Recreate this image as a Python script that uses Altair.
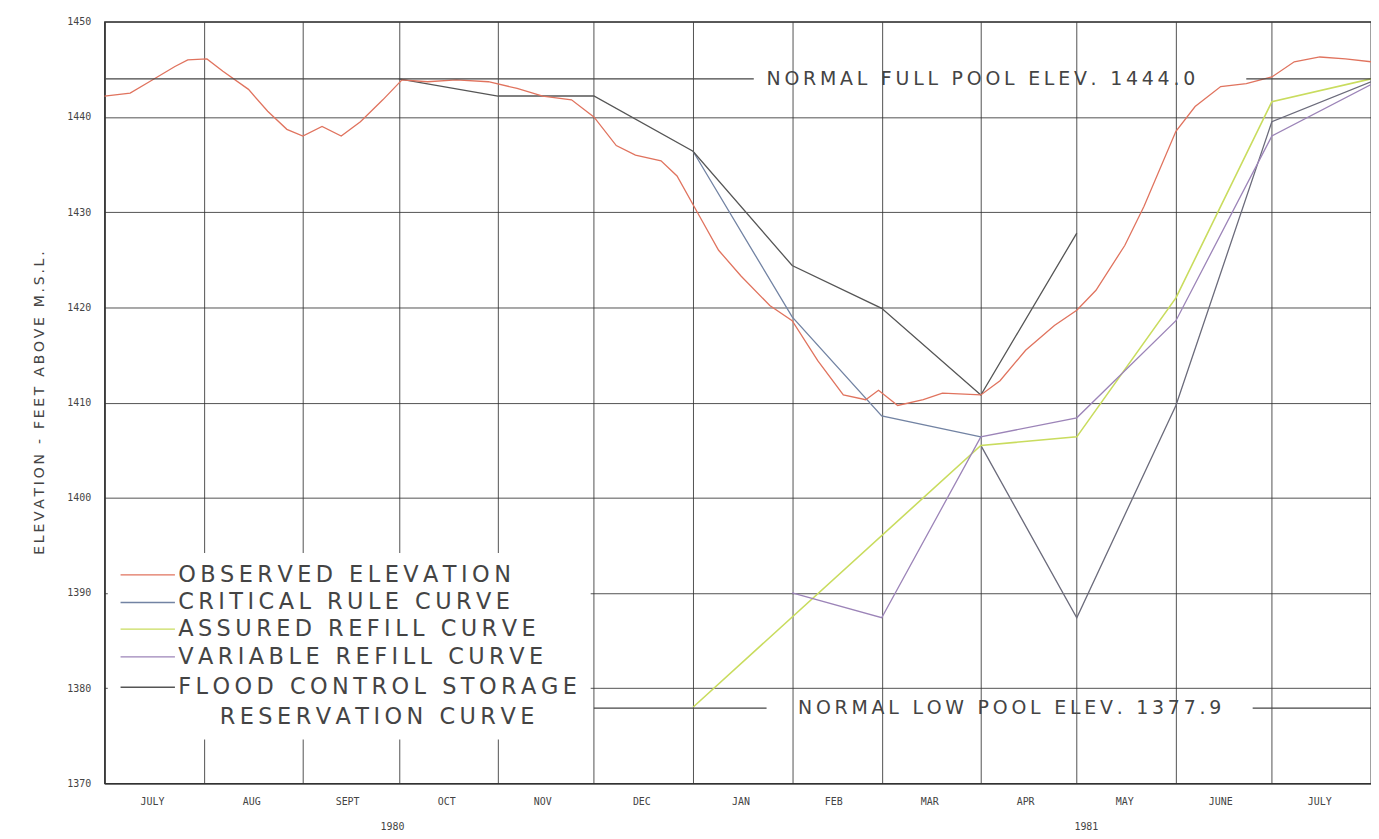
import altair as alt
import pandas as pd

# observed reservoir elevation (red)
obs_dates = ["1980-07-01", "1980-07-09", "1980-07-15", "1980-07-23", "1980-07-27", "1980-08-02",
             "1980-08-07", "1980-08-15", "1980-08-21", "1980-08-27", "1980-09-01", "1980-09-07",
             "1980-09-13", "1980-09-19", "1980-09-26", "1980-10-02", "1980-10-10", "1980-10-19",
             "1980-10-29", "1980-11-07", "1980-11-15", "1980-11-24", "1980-12-01", "1980-12-08",
             "1980-12-14", "1980-12-22", "1980-12-27", "1981-01-03", "1981-01-09", "1981-01-16",
             "1981-01-25", "1981-02-01", "1981-02-09", "1981-02-17", "1981-02-24", "1981-02-28",
             "1981-03-06", "1981-03-14", "1981-03-20", "1981-04-01", "1981-04-07", "1981-04-15",
             "1981-04-24", "1981-05-01", "1981-05-07", "1981-05-16", "1981-05-22", "1981-06-01",
             "1981-06-07", "1981-06-15", "1981-06-23", "1981-07-01", "1981-07-08", "1981-07-16",
             "1981-07-24", "1981-08-01"]
obs_elev = [1442.2, 1442.5, 1443.7, 1445.3, 1446.0, 1446.1, 1444.8, 1442.9, 1440.6, 1438.7,
            1438.0, 1439.0, 1438.0, 1439.5, 1441.8, 1443.9, 1443.7, 1443.9, 1443.7, 1443.0,
            1442.2, 1441.8, 1440.0, 1437.0, 1436.0, 1435.4, 1433.8, 1429.6, 1426.0, 1423.3,
            1420.2, 1418.6, 1414.4, 1410.8, 1410.3, 1411.3, 1409.7, 1410.3, 1411.0, 1410.8,
            1412.3, 1415.5, 1418.1, 1419.7, 1421.8, 1426.5, 1430.6, 1438.5, 1441.1, 1443.2,
            1443.5, 1444.2, 1445.8, 1446.3, 1446.1, 1445.8]

crit_dates = ["1981-01-01", "1981-02-01", "1981-03-01", "1981-04-01"]
crit_elev = [1436.4, 1419.0, 1408.6, 1406.4]

assured_dates = ["1981-01-01", "1981-04-01", "1981-05-01", "1981-06-01", "1981-07-01", "1981-08-01"]
assured_elev = [1378.0, 1405.5, 1406.4, 1421.0, 1441.6, 1444.0]

var_dates = ["1981-02-01", "1981-03-01", "1981-04-01", "1981-05-01", "1981-06-01", "1981-07-01", "1981-08-01"]
var_elev = [1390.0, 1387.4, 1406.4, 1408.4, 1418.6, 1438.0, 1443.4]

flood_a_dates = ["1980-10-01", "1980-11-01", "1980-12-01", "1981-01-01", "1981-02-01",
                 "1981-03-01", "1981-04-01", "1981-05-01"]
flood_a_elev = [1444.0, 1442.2, 1442.2, 1436.4, 1424.4, 1419.9, 1410.8, 1427.8]
flood_b_dates = ["1981-04-01", "1981-05-01", "1981-06-01", "1981-07-01", "1981-08-01"]
flood_b_elev = [1405.5, 1387.4, 1409.7, 1439.5, 1443.7]

months = ["JULY", "AUG", "SEPT", "OCT", "NOV", "DEC", "JAN", "FEB", "MAR", "APR", "MAY", "JUNE", "JULY"]
month_mid = ["1980-07-16", "1980-08-16", "1980-09-15", "1980-10-16", "1980-11-15", "1980-12-16",
             "1981-01-16", "1981-02-14", "1981-03-16", "1981-04-15", "1981-05-16", "1981-06-15",
             "1981-07-16"]
legend_labels = ["OBSERVED ELEVATION", "CRITICAL RULE CURVE", "ASSURED REFILL CURVE",
                 "VARIABLE REFILL CURVE", "FLOOD CONTROL STORAGE", "RESERVATION CURVE"]
legend_y = [1391.9, 1389.0, 1386.2, 1383.3, 1380.1, 1377.0]
legend_x = ["1980-07-24"] * 5 + ["1980-08-06"]

RED, BLUE, GREEN, PURPLE, DARK = "#e0735e", "#7283a3", "#c9dc5e", "#9c84b8", "#555555"
FONT = "DejaVu Sans"
MONO = "DejaVu Sans Mono"


def spaced(s):
    # plotter lettering is widely spaced
    return "\u2009".join(s)


X = alt.X("date:T", scale=alt.Scale(domain=["1980-07-01", "1981-08-01"]),
          axis=alt.Axis(tickCount={"interval": "month", "step": 1}, labels=False, ticks=False,
                        title=None, gridColor="#333", gridOpacity=0.85, domainColor="#333"))
Y = alt.Y("elev:Q", scale=alt.Scale(domain=[1370, 1450]),
          axis=alt.Axis(values=list(range(1370, 1451, 10)), format="d", gridColor="#333",
                        gridOpacity=0.85, domainColor="#333", tickSize=0, labelPadding=14,
                        labelFont=MONO, labelFontSize=10, labelColor="#444",
                        title=spaced("ELEVATION - FEET ABOVE M.S.L."), titleFont=FONT,
                        titleFontSize=14, titleFontWeight="normal", titleColor="#444",
                        titlePadding=20))


def line(dates, elev, color, width=1.3):
    df = pd.DataFrame({"date": dates, "elev": elev})
    return alt.Chart(df).mark_line(color=color, strokeWidth=width).encode(x=X, y=Y)


base = alt.Chart(pd.DataFrame({"date": ["1980-07-01"], "elev": [1370]})).mark_point(opacity=0).encode(x=X, y=Y)

# white box behind the legend
box = alt.Chart(pd.DataFrame({"d1": ["1980-07-02"], "d2": ["1980-11-30"], "e1": [1374.6], "e2": [1394.2]})
                ).mark_rect(color="white").encode(x="d1:T", x2="d2:T", y="e1:Q", y2="e2:Q")

ref = pd.DataFrame({
    "d1": ["1980-07-01", "1981-06-23", "1980-12-01", "1981-06-25"],
    "d2": ["1981-01-20", "1981-08-01", "1981-01-24", "1981-08-01"],
    "e": [1444.0, 1444.0, 1377.9, 1377.9]})
ref_lines = alt.Chart(ref).mark_rule(color="#444", strokeWidth=1.2).encode(x="d1:T", x2="d2:T", y="e:Q")

ref_text = alt.Chart(pd.DataFrame({"date": ["1981-04-01", "1981-04-10"], "elev": [1444.0, 1377.9],
                                   "t": [spaced("NORMAL FULL POOL ELEV. 1444.0"),
                                         spaced("NORMAL LOW POOL ELEV. 1377.9")]})
                     ).mark_text(font=FONT, fontSize=19, color="#444").encode(x="date:T", y="elev:Q", text="t:N")

leg = pd.DataFrame({"y": legend_y, "label": [spaced(s) for s in legend_labels],
                    "c": [RED, BLUE, GREEN, PURPLE, DARK, "none"],
                    "d1": ["1980-07-06"] * 6, "d2": ["1980-07-23"] * 6, "dt": legend_x})
leg_lines = alt.Chart(leg[leg.c != "none"]).mark_rule(strokeWidth=1.3).encode(
    x="d1:T", x2="d2:T", y="y:Q", color=alt.Color("c:N", scale=None))
leg_text = alt.Chart(leg).mark_text(font=FONT, fontSize=22.5, color="#444", align="left").encode(
    x="dt:T", y="y:Q", text="label:N")

month_text = alt.Chart(pd.DataFrame({"date": month_mid, "m": months})).mark_text(
    font=MONO, fontSize=10, color="#444", dy=19).encode(x="date:T", y=alt.datum(1370), text="m:N")
year_text = alt.Chart(pd.DataFrame({"date": ["1980-09-29", "1981-05-04"], "y": ["1980", "1981"]})).mark_text(
    font=MONO, fontSize=10, color="#444", dy=44).encode(x="date:T", y=alt.datum(1370), text="y:N")

chart = alt.layer(
    base, box,
    line(flood_b_dates, flood_b_elev, "#6b6b7b"),
    line(assured_dates, assured_elev, GREEN, 1.6),
    line(var_dates, var_elev, PURPLE),
    line(crit_dates, crit_elev, BLUE),
    line(flood_a_dates, flood_a_elev, DARK),
    line(obs_dates, obs_elev, RED),
    ref_lines, ref_text, leg_lines, leg_text, month_text, year_text,
).properties(
    width=1272, height=765, autosize=alt.AutoSizeParams(type="none"),
    padding={"left": 97, "top": 12, "right": 0, "bottom": 50},
).configure_view(stroke="#333", strokeWidth=1.3)

chart.save("out.html", embed_options={"renderer": "svg", "actions": False})
